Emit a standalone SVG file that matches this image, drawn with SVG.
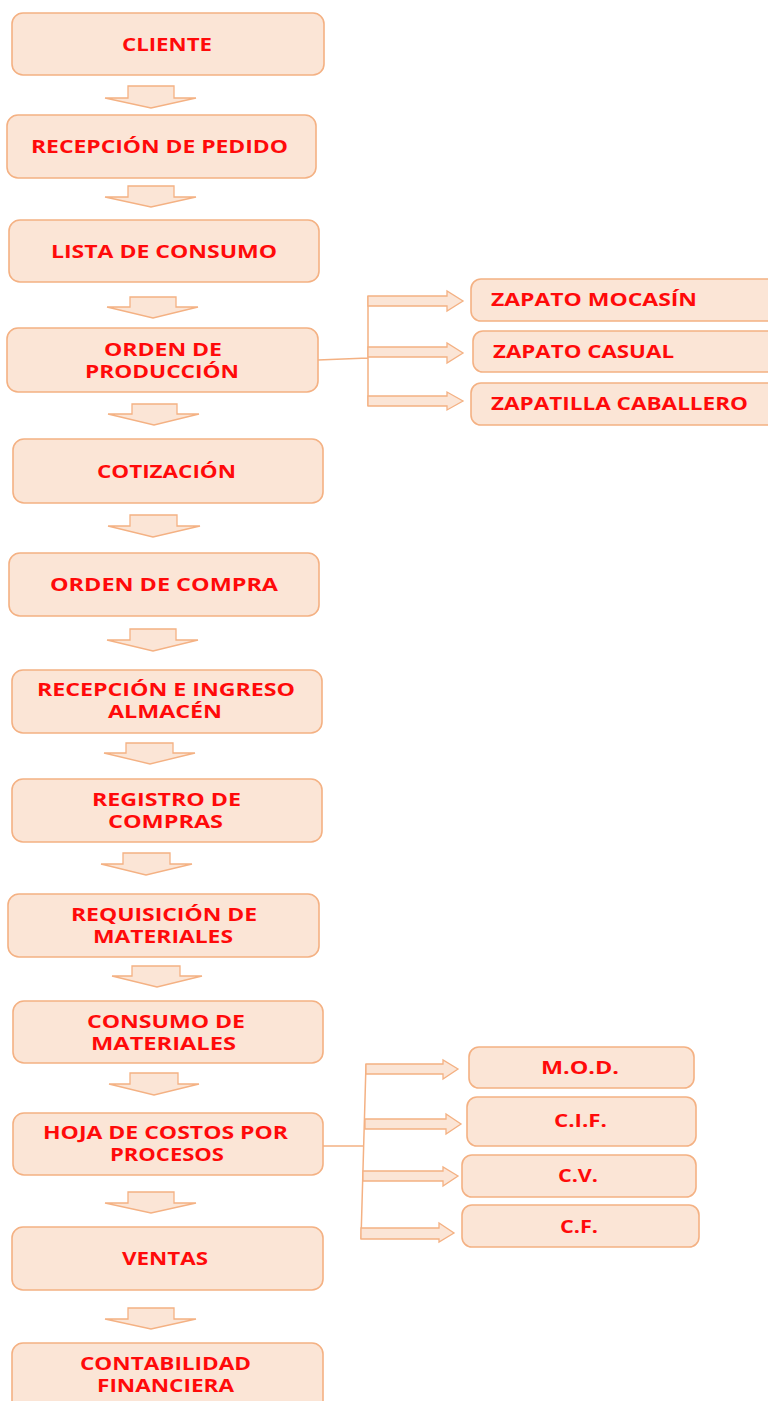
<svg xmlns="http://www.w3.org/2000/svg" width="768" height="1401" viewBox="0 0 768 1401">
<style>
.box{fill:#FBE5D6;stroke:#F4B183;stroke-width:1.6}
.arr{fill:#FBE5D6;stroke:#F4B183;stroke-width:1.3;stroke-linejoin:miter}
.ln{fill:none;stroke:#F4B183;stroke-width:1.5}
.t{font-family:"Open Sans","Liberation Sans",sans-serif;font-weight:bold;font-size:18px;fill:#FF0A0A}
</style>
<rect x="0" y="0" width="768" height="1401" fill="#FFFFFF"/>
<g id="connectors">
<polygon class="arr" points="128,86 174,86 174,98 196,98 151,108 105,98 128,98"/>
<polygon class="arr" points="128,186 174,186 174,197 196,197 151,207 105,197 128,197"/>
<polygon class="arr" points="130,297 176,297 176,307 198,307 153,318 107,307 130,307"/>
<polygon class="arr" points="132,404 177,404 177,414 199,414 154,425 108,414 132,414"/>
<polygon class="arr" points="130,515 177,515 177,526 200,526 153,537 108,526 130,526"/>
<polygon class="arr" points="130,629 176,629 176,640 198,640 153,651 107,640 130,640"/>
<polygon class="arr" points="126,743 173,743 173,753 195,753 150,764 104,753 126,753"/>
<polygon class="arr" points="123,853 170,853 170,864 192,864 146,875 101,864 123,864"/>
<polygon class="arr" points="132,966 180,966 180,976 202,976 157,987 112,976 132,976"/>
<polygon class="arr" points="130,1073 178,1073 178,1084 199,1084 154,1095 109,1084 130,1084"/>
<polygon class="arr" points="128,1192 174,1192 174,1203 196,1203 151,1213 105,1203 128,1203"/>
<polygon class="arr" points="128,1308 174,1308 174,1319 196,1319 151,1329 105,1319 128,1319"/>
<path class="ln" d="M318,360 L368,358 M368,296 L368,406"/>
<polygon class="arr" points="368,296 447,296 447,291 463,301 447,311 447,306 368,306"/>
<polygon class="arr" points="368,347 447,347 447,343 463,353 447,363 447,357 368,357"/>
<polygon class="arr" points="368,396 447,396 447,392 463,401 447,410 447,406 368,406"/>
<path class="ln" d="M323,1146 L363,1146 M366,1064 L361,1239"/>
<polygon class="arr" points="366,1064 443,1064 443,1060 458,1069 443,1079 443,1074 366,1074"/>
<polygon class="arr" points="365,1119 446,1119 446,1114 461,1124 446,1134 446,1129 365,1129"/>
<polygon class="arr" points="363,1171 443,1171 443,1167 458,1176 443,1186 443,1181 363,1181"/>
<polygon class="arr" points="361,1228 439,1228 439,1223 454,1233 439,1242 439,1239 361,1239"/>
</g>
<g id="n-cliente"><rect class="box" x="12" y="13" width="312" height="62" rx="11"/><text class="t" x="122" y="51" textLength="90" lengthAdjust="spacingAndGlyphs">CLIENTE</text></g>
<g id="n-recepcion"><rect class="box" x="7" y="115" width="309" height="63" rx="11"/><text class="t" x="31" y="153" textLength="257" lengthAdjust="spacingAndGlyphs">RECEPCIÓN DE PEDIDO</text></g>
<g id="n-lista"><rect class="box" x="9" y="220" width="310" height="62" rx="11"/><text class="t" x="51" y="258" textLength="226" lengthAdjust="spacingAndGlyphs">LISTA DE CONSUMO</text></g>
<g id="n-orden-prod"><rect class="box" x="7" y="328" width="311" height="64" rx="11"/><text class="t" x="104" y="356" textLength="118" lengthAdjust="spacingAndGlyphs">ORDEN DE</text><text class="t" x="85" y="378" textLength="154" lengthAdjust="spacingAndGlyphs">PRODUCCIÓN</text></g>
<g id="n-cotizacion"><rect class="box" x="13" y="439" width="310" height="64" rx="11"/><text class="t" x="97" y="478" textLength="139" lengthAdjust="spacingAndGlyphs">COTIZACIÓN</text></g>
<g id="n-orden-compra"><rect class="box" x="9" y="553" width="310" height="63" rx="11"/><text class="t" x="50" y="591" textLength="228" lengthAdjust="spacingAndGlyphs">ORDEN DE COMPRA</text></g>
<g id="n-recepcion-almacen"><rect class="box" x="12" y="670" width="310" height="63" rx="11"/><text class="t" x="37" y="696" textLength="258" lengthAdjust="spacingAndGlyphs">RECEPCIÓN E INGRESO</text><text class="t" x="108" y="718" textLength="114" lengthAdjust="spacingAndGlyphs">ALMACÉN</text></g>
<g id="n-registro"><rect class="box" x="12" y="779" width="310" height="63" rx="11"/><text class="t" x="92" y="806" textLength="149" lengthAdjust="spacingAndGlyphs">REGISTRO DE</text><text class="t" x="108" y="828" textLength="115" lengthAdjust="spacingAndGlyphs">COMPRAS</text></g>
<g id="n-requisicion"><rect class="box" x="8" y="894" width="311" height="63" rx="11"/><text class="t" x="71" y="921" textLength="186" lengthAdjust="spacingAndGlyphs">REQUISICIÓN DE</text><text class="t" x="93" y="943" textLength="140" lengthAdjust="spacingAndGlyphs">MATERIALES</text></g>
<g id="n-consumo"><rect class="box" x="13" y="1001" width="310" height="62" rx="11"/><text class="t" x="87" y="1028" textLength="158" lengthAdjust="spacingAndGlyphs">CONSUMO DE</text><text class="t" x="91" y="1050" textLength="145" lengthAdjust="spacingAndGlyphs">MATERIALES</text></g>
<g id="n-hoja"><rect class="box" x="13" y="1113" width="310" height="62" rx="11"/><text class="t" x="43" y="1139" textLength="245" lengthAdjust="spacingAndGlyphs">HOJA DE COSTOS POR</text><text class="t" x="110" y="1161" textLength="114" lengthAdjust="spacingAndGlyphs">PROCESOS</text></g>
<g id="n-ventas"><rect class="box" x="12" y="1227" width="311" height="63" rx="11"/><text class="t" x="122" y="1265" textLength="86" lengthAdjust="spacingAndGlyphs">VENTAS</text></g>
<g id="n-contabilidad"><rect class="box" x="12" y="1343" width="311" height="75" rx="11"/><text class="t" x="80" y="1370" textLength="171" lengthAdjust="spacingAndGlyphs">CONTABILIDAD</text><text class="t" x="97" y="1392" textLength="137" lengthAdjust="spacingAndGlyphs">FINANCIERA</text></g>
<g id="n-mocasin"><rect class="box" x="471" y="279" width="310" height="42" rx="10"/><text class="t" x="491" y="306" textLength="206" lengthAdjust="spacingAndGlyphs">ZAPATO MOCASÍN</text></g>
<g id="n-casual"><rect class="box" x="473" y="331" width="308" height="41" rx="10"/><text class="t" x="493" y="358" textLength="181" lengthAdjust="spacingAndGlyphs">ZAPATO CASUAL</text></g>
<g id="n-zapatilla"><rect class="box" x="471" y="383" width="310" height="42" rx="10"/><text class="t" x="491" y="410" textLength="257" lengthAdjust="spacingAndGlyphs">ZAPATILLA CABALLERO</text></g>
<g id="n-mod"><rect class="box" x="469" y="1047" width="225" height="41" rx="10"/><text class="t" x="541" y="1074" textLength="78" lengthAdjust="spacingAndGlyphs">M.O.D.</text></g>
<g id="n-cif"><rect class="box" x="467" y="1097" width="229" height="49" rx="10"/><text class="t" x="554" y="1127" textLength="53" lengthAdjust="spacingAndGlyphs">C.I.F.</text></g>
<g id="n-cv"><rect class="box" x="462" y="1155" width="234" height="42" rx="10"/><text class="t" x="558" y="1182" textLength="40" lengthAdjust="spacingAndGlyphs">C.V.</text></g>
<g id="n-cf"><rect class="box" x="462" y="1205" width="237" height="42" rx="10"/><text class="t" x="560" y="1233" textLength="38" lengthAdjust="spacingAndGlyphs">C.F.</text></g>
</svg>
